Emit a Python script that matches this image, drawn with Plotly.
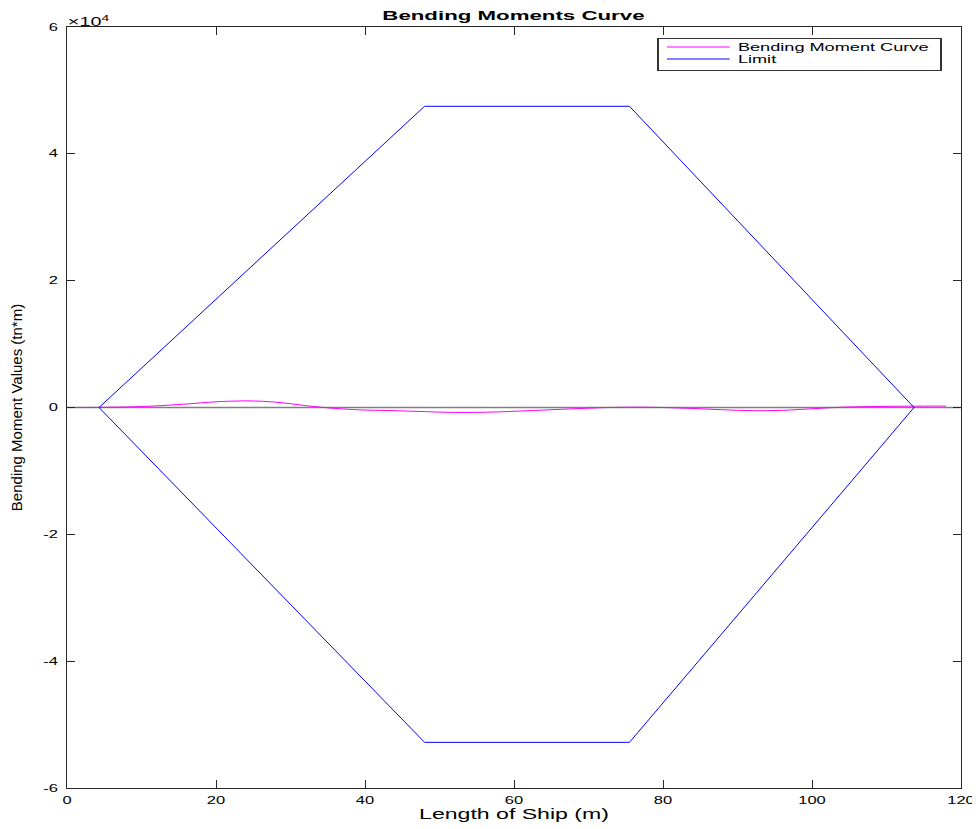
import plotly.graph_objects as go

# Bending moment curve
bm_x = [0, 4, 8, 12, 16, 20, 22, 24, 26, 28, 30, 32, 34, 36, 38, 40, 44, 48, 52, 56, 60,
        64, 68, 72, 76, 80, 84, 88, 92, 96, 100, 104, 108, 112, 116, 118]
bm_y = [0, 20, 80, 250, 550, 900, 1000, 1050, 1000, 850, 600, 300, 50, -150, -300, -400,
        -500, -650, -780, -750, -600, -400, -200, -20, 50, 0, -150, -350, -500, -450,
        -200, 50, 150, 200, 220, 230]

# Limit envelope
lim_x = [4.3, 48.0, 75.5, 113.7, 75.5, 48.0, 4.3]
lim_y = [0, 47500, 47500, 0, -52800, -52800, 0]

# zero reference line
zero_x = [0, 120]
zero_y = [0, 0]

y_ticks = [-60000, -40000, -20000, 0, 20000, 40000, 60000]
y_tick_text = ["-6", "-4", "-2", "0", "2", "4", "6"]
x_ticks = [0, 20, 40, 60, 80, 100, 120]

fig = go.Figure()
fig.add_trace(go.Scatter(x=zero_x, y=zero_y, mode="lines", showlegend=False,
                         line=dict(color="#808080", width=1.6)))
fig.add_trace(go.Scatter(x=bm_x, y=bm_y, mode="lines", name="Bending Moment Curve",
                         line=dict(color="#ff00ff", width=1, shape="spline")))
fig.add_trace(go.Scatter(x=lim_x, y=lim_y, mode="lines", name="Limit",
                         line=dict(color="#0000ff", width=1)))

font = "Liberation Sans, Arial, Helvetica, sans-serif"
fig.update_layout(
    width=972, height=821,
    margin=dict(l=59, r=19, t=19, b=41, autoexpand=False),
    paper_bgcolor="white", plot_bgcolor="white",
    font=dict(family=font, size=10, color="black"),
    title=dict(text="<b>Bending Moments Curve</b>", x=0.520, xanchor="center",
               y=0.9915, yanchor="middle", font=dict(size=13.5), automargin=False),
    showlegend=True,
    legend=dict(x=0.66, xanchor="left", y=0.9855, yanchor="top",
                bgcolor="white", bordercolor="#333333", borderwidth=1,
                font=dict(size=11), tracegroupgap=0, itemwidth=38),
    xaxis=dict(range=[0, 120], tickvals=x_ticks, ticks="inside", ticklen=8,
               tickcolor="#262626", ticklabelstandoff=3,
               showline=True, linecolor="#262626", linewidth=1, mirror="allticks",
               showgrid=False, zeroline=False, automargin=False,
               title=dict(text="Length of Ship (m)", standoff=2, font=dict(size=14))),
    yaxis=dict(range=[-60000, 60000], tickvals=y_ticks, ticktext=y_tick_text,
               ticks="inside", ticklen=8, tickcolor="#262626", ticklabelstandoff=6,
               showline=True, linecolor="#262626", linewidth=1, mirror="allticks",
               showgrid=False, zeroline=False, automargin=False,
               title=dict(text="Bending Moment Values (tn*m)", standoff=28,
                          font=dict(size=15))),
)
fig.add_annotation(x=0, xref="paper", y=1, yref="paper", xanchor="left", yanchor="bottom",
                   text="×10<sup>4</sup>", showarrow=False, font=dict(size=12),
                   xshift=7, yshift=-4)

post = """
var gd = document.getElementById('{plot_id}');
var S = 1.65;
gd.querySelectorAll('text').forEach(function(t){
  if (t.closest('.legend')) return;
  var tr = t.getAttribute('transform') || '';
  if (tr.indexOf('rotate') >= 0) return;
  var x = parseFloat(t.getAttribute('x')) || 0;
  var y = parseFloat(t.getAttribute('y')) || 0;
  t.setAttribute('transform', tr + ' translate(' + x + ',' + y + ') scale(' + S + ',1) translate(' + (-x) + ',' + (-y) + ')');
});
var lg = gd.querySelector('g.legend');
if (lg) {
  var items = lg.querySelectorAll('g.traces');
  items.forEach(function(g, i){
    var tr = g.getAttribute('transform') || '';
    var m = tr.match(/translate\\(\\s*([-0-9.e]+)[ ,]+([-0-9.e]+)\\s*\\)/);
    var x0 = m ? parseFloat(m[1]) : 0;
    g.setAttribute('transform', 'translate(' + x0 + ',' + (9 + 12 * i) + ')');
  });
  var bg = lg.querySelector('rect.bg');
  if (bg) { bg.setAttribute('height', 32); bg.setAttribute('width', 283 / S); }
  lg.setAttribute('transform', (lg.getAttribute('transform') || '') + ' scale(' + S + ',1)');
}
"""

fig.write_html("out.html", post_script=post, config={"displayModeBar": False})
